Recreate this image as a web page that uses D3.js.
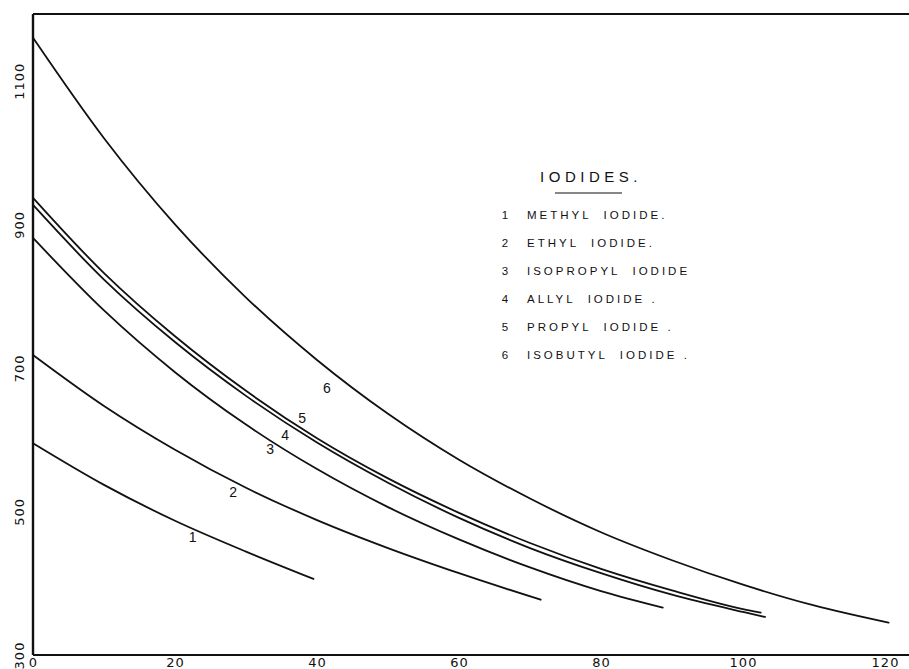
<!DOCTYPE html>
<html>
<head>
<meta charset="utf-8">
<script src="https://cdn.jsdelivr.net/npm/d3@7"></script>
<style>
  html, body { margin: 0; padding: 0; background: #fff; }
  svg { display: block; }
  text { font-family: "Liberation Sans", "DejaVu Sans", sans-serif; fill: #111; }
</style>
</head>
<body>
<svg id="chart" width="909" height="669"></svg>
<script>
// Iodides: curves of value against temperature-like abscissa, read as [x, value] pairs
const methylIodide    = [[0, 595], [10, 537], [20, 487], [30, 444], [39.5, 406]];
const ethylIodide     = [[0, 718], [10, 647], [20, 586], [30, 533], [40, 488], [50, 449], [60, 414], [71.5, 377]];
const isopropylIodide = [[0, 881], [10, 780], [20, 694], [30, 621], [40, 559], [50, 506], [60, 461], [70, 422], [80, 389], [88.7, 366]];
const allylIodide     = [[0, 927], [10, 823], [20, 736], [30, 661], [40, 596], [50, 540], [60, 491], [70, 449], [80, 414], [90, 384], [100, 360], [103.1, 353]];
const propylIodide    = [[0, 937], [10, 832], [20, 744], [30, 668], [40, 602], [50, 546], [60, 498], [70, 456], [80, 420], [90, 390], [100, 364], [102.5, 359]];
const isobutylIodide  = [[0, 1160], [10, 1020], [20, 900], [30, 798], [40, 711], [50, 636], [60, 572], [70, 518], [80, 471], [90, 432], [100, 398], [110, 369], [120.5, 345]];

const seriesNumbers = ["1", "2", "3", "4", "5", "6"];
const seriesNames = ["METHYL  IODIDE.", "ETHYL  IODIDE.", "ISOPROPYL  IODIDE", "ALLYL  IODIDE .", "PROPYL  IODIDE .", "ISOBUTYL  IODIDE ."];
const xTicks = [0, 20, 40, 60, 80, 100, 120];
const yTicks = [300, 500, 700, 900, 1100];

// where each curve's number is written, in data units
const labelAnchors = [[22.5, 464], [28.2, 527], [33.4, 587], [35.5, 607], [37.9, 630], [41.4, 672]];

const allSeries = [methylIodide, ethylIodide, isopropylIodide, allylIodide, propylIodide, isobutylIodide];

const svg = d3.select("#chart");
const x = d3.scaleLinear().domain([0, 120]).range([33, 885]);
const y = d3.scaleLinear().domain([300, 1193]).range([655, 14]);

// frame: left, top and bottom rules
const frame = svg.append("g").attr("stroke", "#111").attr("fill", "none");
frame.append("line").attr("x1", 33).attr("x2", 33).attr("y1", y(1193)).attr("y2", y(300)).attr("stroke-width", 2.4);
frame.append("line").attr("x1", 33).attr("x2", 909).attr("y1", y(1193)).attr("y2", y(1193)).attr("stroke-width", 1.8);
frame.append("line").attr("x1", 33).attr("x2", 909).attr("y1", y(300)).attr("y2", y(300)).attr("stroke-width", 2.2);

// bottom axis labels
const xAxis = svg.append("g")
  .attr("transform", `translate(0,${y(300)})`)
  .call(d3.axisBottom(x).tickValues(xTicks).tickSize(0).tickPadding(3).tickFormat(d3.format("d")));
xAxis.select(".domain").remove();
xAxis.selectAll("text").attr("font-size", 13).attr("letter-spacing", 1).style("font-family", "'DejaVu Sans', sans-serif").attr("fill", "#111");

// left axis labels, written upward
const yAxis = svg.append("g")
  .attr("transform", `translate(${x(0)},0)`)
  .call(d3.axisLeft(y).tickValues(yTicks).tickSize(0).tickFormat(d3.format("d")));
yAxis.select(".domain").remove();
yAxis.selectAll("text")
  .attr("x", null).attr("dy", null)
  .attr("text-anchor", "middle")
  .attr("transform", "translate(-14,0) rotate(-90)")
  .attr("dy", "0.35em")
  .attr("font-size", 13)
  .attr("letter-spacing", 1)
  .style("font-family", "'DejaVu Sans', sans-serif")
  .attr("fill", "#111");

// curves
const line = d3.line()
  .x(d => x(d[0]))
  .y(d => y(d[1]))
  .curve(d3.curveMonotoneX);

svg.append("g").selectAll("path")
  .data(allSeries)
  .join("path")
  .attr("d", line)
  .attr("fill", "none")
  .attr("stroke", "#111")
  .attr("stroke-width", 1.8)
  .attr("stroke-linecap", "round");

// curve numbers
svg.append("g").selectAll("text")
  .data(labelAnchors)
  .join("text")
  .attr("x", d => x(d[0]))
  .attr("y", d => y(d[1]))
  .attr("dy", "0.35em")
  .attr("text-anchor", "middle")
  .attr("font-size", 14)
  .text((d, i) => seriesNumbers[i]);

// key
const key = svg.append("g");
key.append("text")
  .attr("x", 591).attr("y", 182)
  .attr("text-anchor", "middle")
  .attr("font-size", 15)
  .attr("letter-spacing", 4.5)
  .text("IODIDES.");
key.append("line")
  .attr("x1", 555).attr("x2", 622).attr("y1", 193).attr("y2", 193)
  .attr("stroke", "#111").attr("stroke-width", 1.2);

const rows = key.selectAll("g.row")
  .data(seriesNames)
  .join("g")
  .attr("class", "row")
  .attr("transform", (d, i) => `translate(0,${219 + i * 28})`);
rows.append("text")
  .attr("x", 505).attr("text-anchor", "middle")
  .attr("font-size", 11.5)
  .text((d, i) => seriesNumbers[i]);
rows.append("text")
  .attr("x", 527)
  .attr("font-size", 11.5)
  .attr("letter-spacing", 3)
  .style("white-space", "pre")
  .text(d => d);
</script>
</body>
</html>
